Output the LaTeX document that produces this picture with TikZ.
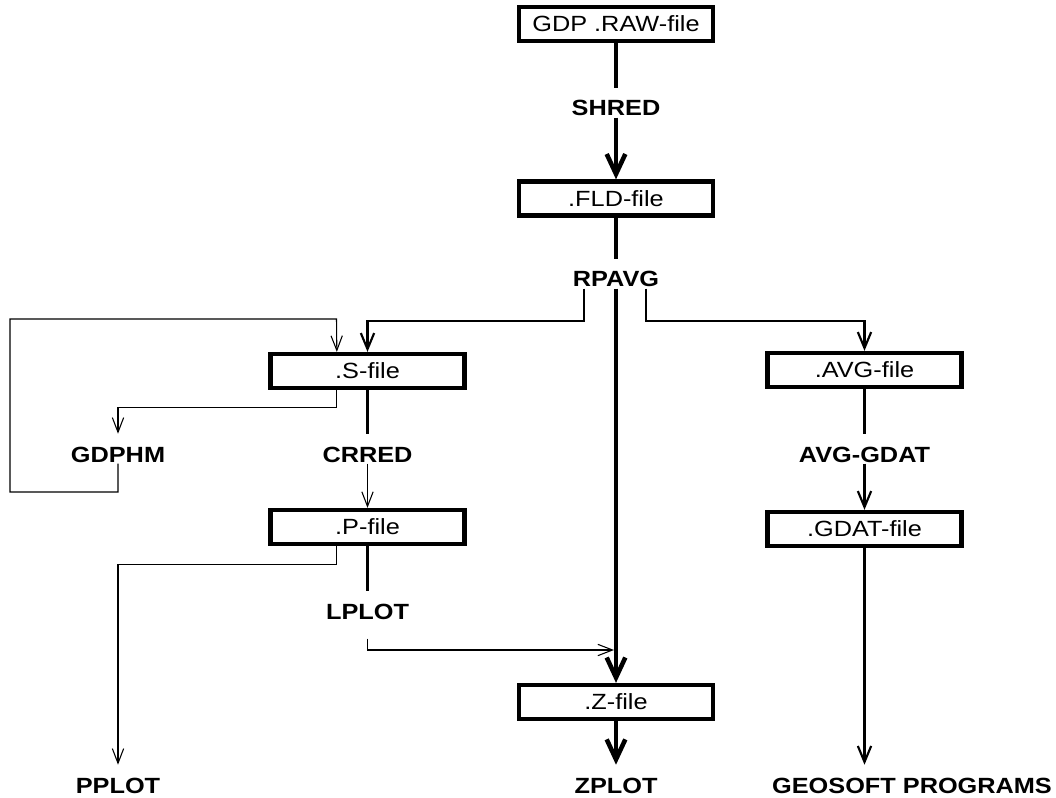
\documentclass[tikz,border=0pt]{standalone}
\usepackage{fontspec}
\setmainfont{Liberation Sans}[FakeStretch=1.15]
\usetikzlibrary{arrows.meta,calc}

\begin{document}
\begin{tikzpicture}[x=0.75pt,y=-0.75pt,
  FileBox/.style={draw,line width=3.2pt,inner sep=0pt,minimum width=145.5pt,
    minimum height=25.5pt,font=\fontsize{16.5}{19}\selectfont},
  ProgLbl/.style={inner sep=1pt,text height=20pt,text depth=0pt,anchor=base,
    font=\fontsize{16.5}{19}\selectfont\bfseries},
  HeavyLn/.style={line width=3.4pt},
  MidLn/.style={line width=1.6pt},
  ThinLn/.style={line width=0.8pt},
  BigTip/.tip={Straight Barb[length=15pt,width=14pt]},
  MidTip/.tip={Straight Barb[length=12pt,width=10pt]},
  SmallTip/.tip={Straight Barb[length=11pt,width=8.5pt]}]

\useasboundingbox (0,0) rectangle (1056,798);

% files
\node[FileBox] (raw) at (616,24) {GDP .RAW-file};
\node[FileBox] (fld) at (616,198.5) {.FLD-file};
\node[FileBox] (sfile) at (367.5,371) {.S-file};
\node[FileBox] (avg) at (864.5,370) {.AVG-file};
\node[FileBox] (pfile) at (367.5,527) {.P-file};
\node[FileBox] (gdat) at (864.5,529) {.GDAT-file};
\node[FileBox] (zfile) at (616,702) {.Z-file};

% programs
\node[ProgLbl] (shred) at (616,116) {SHRED};
\node[ProgLbl] (rpavg) at (616,287) {RPAVG};
\node[ProgLbl] (gdphm) at (118,462) {GDPHM};
\node[ProgLbl] (crred) at (367.5,462) {CRRED};
\node[ProgLbl] (avggdat) at (864.5,462) {AVG-GDAT};
\node[ProgLbl] (lplot) at (367.5,619) {LPLOT};
\node[ProgLbl] (pplot) at (118,793) {PPLOT};
\node[ProgLbl] (zplot) at (616,793) {ZPLOT};
\node[ProgLbl] (geosoft) at (912,793) {GEOSOFT PROGRAMS};

\coordinate (zjoin) at (614,650);

% main line
\draw[HeavyLn] (raw) -- (shred);
\draw[HeavyLn,-BigTip] (shred) -- (fld);
\draw[HeavyLn] (fld) -- (rpavg);
\draw[HeavyLn,-BigTip] (rpavg) -- (zfile);
\draw[HeavyLn,-BigTip] (zfile) -- (zplot);

% RPAVG branches
\draw[MidLn,-MidTip] ([xshift=-24pt]rpavg.south) -- ++(0,32) -| (sfile.north);
\draw[MidLn,-MidTip] ([xshift=22.5pt]rpavg.south) -- ++(0,32) -| (avg.north);

% left side
\draw[MidLn] (sfile) -- (crred);
\draw[ThinLn,-SmallTip] (crred) -- (pfile);
\draw[ThinLn,-SmallTip] ([xshift=-23pt]sfile.south) -- ++(0,17) -| (gdphm.north);
\draw[ThinLn,-SmallTip] (gdphm.south) |- (10,492) |- (336.5,319) -- ([xshift=-23pt]sfile.north);
\draw[MidLn] (pfile) -- (lplot);
\draw[ThinLn,-SmallTip] ([xshift=-23pt]pfile.south) -- ++(0,18) -| (pplot.north);
\draw[ThinLn,-SmallTip] ([yshift=-13.5pt]lplot.south) |- (zjoin);

% right side
\draw[MidLn] (avg) -- (avggdat);
\draw[MidLn,-MidTip] (avggdat) -- (gdat);
\draw[MidLn,-MidTip] (gdat.south) -- (gdat.south |- geosoft.north);

\end{tikzpicture}
\end{document}
